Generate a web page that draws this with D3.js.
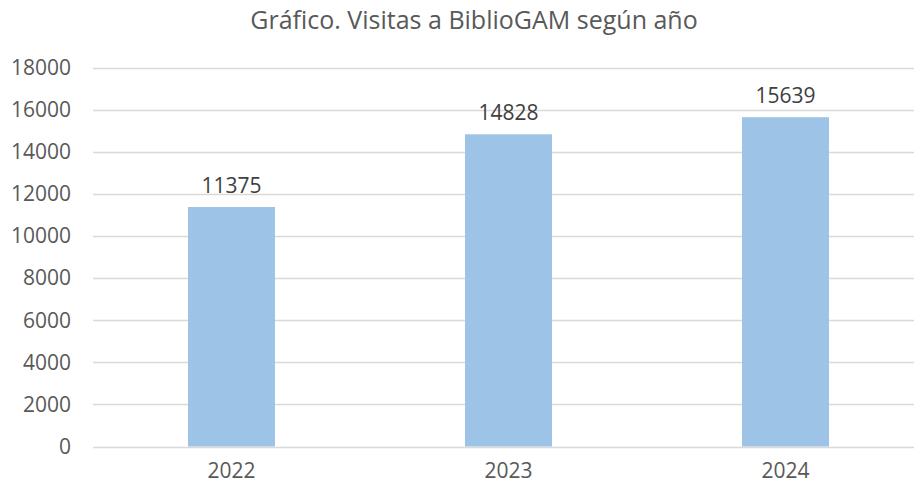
<!DOCTYPE html>
<html>
<head>
<meta charset="utf-8">
<script src="https://cdn.jsdelivr.net/npm/d3@7"></script>
<style>
  body { margin: 0; background: #fff; }
  svg { display: block; }
</style>
</head>
<body>
<svg width="914" height="486"></svg>
<script>
const years = ["2022", "2023", "2024"]
const visits = [11375, 14828, 15639]
const yTicks = [0, 2000, 4000, 6000, 8000, 10000, 12000, 14000, 16000, 18000]
const chartTitle = "Gráfico. Visitas a BiblioGAM según año"

const svg = d3.select("svg")
const font = "'Open Sans', sans-serif"

const xScale = d3
  .scaleBand()
  .domain(years)
  .range([93, 924])
  .paddingInner(0.686)
  .paddingOuter(0.343)

const yScale = d3.scaleLinear().domain([0, 18000]).range([446.5, 67.5])

// gridlines
svg
  .append("g")
  .selectAll("line")
  .data(yTicks)
  .join("line")
  .attr("x1", 93)
  .attr("x2", 914)
  .attr("y1", (d) => Math.round(yScale(d)) + 0.5)
  .attr("y2", (d) => Math.round(yScale(d)) + 0.5)
  .attr("stroke", "#d9d9d9")
  .attr("stroke-width", 1.3)

// y axis labels
svg
  .append("g")
  .selectAll("text")
  .data(yTicks)
  .join("text")
  .attr("x", 71)
  .attr("y", (d) => yScale(d))
  .attr("dy", "0.35em")
  .attr("text-anchor", "end")
  .attr("font-family", font)
  .attr("font-size", 21)
  .attr("fill", "#595959")
  .text((d) => d)

// bars
svg
  .append("g")
  .selectAll("rect")
  .data(visits)
  .join("rect")
  .attr("x", (d, i) => xScale(years[i]))
  .attr("width", xScale.bandwidth())
  .attr("y", (d) => yScale(d))
  .attr("height", (d) => yScale(0) - yScale(d))
  .attr("fill", "#9dc3e6")

// value labels
svg
  .append("g")
  .selectAll("text")
  .data(visits)
  .join("text")
  .attr("x", (d, i) => xScale(years[i]) + xScale.bandwidth() / 2)
  .attr("y", (d) => yScale(d) - 14)
  .attr("text-anchor", "middle")
  .attr("font-family", font)
  .attr("font-size", 21)
  .attr("fill", "#404040")
  .text((d) => d)

// x axis labels
svg
  .append("g")
  .selectAll("text")
  .data(years)
  .join("text")
  .attr("x", (d) => xScale(d) + xScale.bandwidth() / 2)
  .attr("y", 478)
  .attr("text-anchor", "middle")
  .attr("font-family", font)
  .attr("font-size", 21)
  .attr("fill", "#595959")
  .text((d) => d)

// title
svg
  .append("text")
  .attr("x", 474)
  .attr("y", 29)
  .attr("text-anchor", "middle")
  .attr("font-family", font)
  .attr("font-size", 25)
  .attr("fill", "#595959")
  .text(chartTitle)
</script>
</body>
</html>
